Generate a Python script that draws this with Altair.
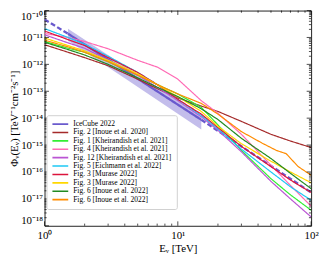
import altair as alt
import pandas as pd

W, H = 270, 218

NAMES = [
    "IceCube 2022",
    "Fig. 2 [Inoue et al. 2020]",
    "Fig. 1 [Kheirandish et al. 2021]",
    "Fig. 4 [Kheirandish et al. 2021]",
    "Fig. 12 [Kheirandish et al. 2021]",
    "Fig. 5 [Eichmann et al. 2022]",
    "Fig. 3 [Murase 2022]",
    "Fig. 3 [Murase 2022] ",
    "Fig. 6 [Inoue et al. 2022]",
    "Fig. 6 [Inoue et al. 2022] ",
]
COLORS = ["#6a5acd", "#a52a2a", "#33ee33", "#ff69b4", "#ba55d3",
          "#1ec8f5", "#dc143c", "#ffd700", "#228b22", "#ff8c00"]

# IceCube 2022 best fit (log10 flux) and 68% band
ICE_E_DASH1 = [1.0, 1.5]
ICE_F_DASH1 = [-10.33, -10.86]
ICE_E_SOLID = [1.5, 15.0]
ICE_F_SOLID = [-10.86, -14.06]
ICE_E_DASH2 = [15.0, 100.0]
ICE_F_DASH2 = [-14.06, -16.76]
BAND_E = [1.5, 4.0, 15.0]
BAND_HI = [-10.68, -12.06, -13.93]
BAND_LO = [-11.12, -12.52, -14.42]

E_STD = [1, 1.5, 2, 3, 5, 7, 10, 15, 20, 30, 50, 70, 100]
F_INOUE20 = [-11.27, -11.55, -11.75, -12.05, -12.55, -12.9, -13.25, -13.55, -13.75, -14.12, -14.6, -14.85, -15.09]
F_KH_FIG1 = [-11.15, -11.4, -11.55, -11.9, -12.4, -12.75, -13.1, -13.6, -14.25, -15.2, -16.25, -16.85, -17.42]
F_KH_FIG4 = [-10.85, -11.0, -11.15, -11.42, -11.85, -12.1, -12.55, -13.35, -13.82, -14.6, -15.75, -16.5, -17.27]
F_KH_FIG12 = [-10.9, -11.2, -11.4, -11.85, -12.4, -12.85, -13.35, -13.95, -14.45, -15.25, -16.35, -17.0, -17.67]
F_EICHMANN = [-10.67, -11.0, -11.25, -11.7, -12.3, -12.75, -13.3, -13.9, -14.4, -15.15, -16.0, -16.55, -17.05]
F_MURASE_A = [-10.76, -11.08, -11.3, -11.75, -12.3, -12.75, -13.3, -13.85, -14.35, -15.05, -15.8, -16.3, -16.76]
F_MURASE_B = [-11.02, -11.3, -11.5, -11.85, -12.35, -12.75, -13.2, -13.75, -14.3, -14.95, -15.6, -16.0, -16.4]
F_INOUE22_A = [-11.18, -11.45, -11.65, -12.0, -12.5, -12.85, -13.2, -13.65, -14.05, -14.75, -15.5, -16.05, -16.62]
E_INOUE22_B = [1, 1.5, 2, 3, 5, 7, 10, 15, 20, 30, 43, 55, 65, 80, 100]
F_INOUE22_B = [-11.1, -11.35, -11.55, -11.9, -12.4, -12.75, -13.1, -13.45, -13.85, -14.5, -14.93, -15.2, -15.32, -15.8, -16.12]

SERIES = [
    (NAMES[1], E_STD, F_INOUE20),
    (NAMES[2], E_STD, F_KH_FIG1),
    (NAMES[3], E_STD, F_KH_FIG4),
    (NAMES[4], E_STD, F_KH_FIG12),
    (NAMES[5], E_STD, F_EICHMANN),
    (NAMES[6], E_STD, F_MURASE_A),
    (NAMES[7], E_STD, F_MURASE_B),
    (NAMES[8], E_STD, F_INOUE22_A),
    (NAMES[9], E_INOUE22_B, F_INOUE22_B),
]

rows = []
for seg, style, es, fs in [("a", "dashed", ICE_E_DASH1, ICE_F_DASH1),
                           ("b", "solid", ICE_E_SOLID, ICE_F_SOLID),
                           ("c", "dashed", ICE_E_DASH2, ICE_F_DASH2)]:
    for e, f in zip(es, fs):
        rows.append({"series": NAMES[0], "seg": seg, "style": style, "E": e, "F": 10 ** f})
for name, es, fs in SERIES:
    for e, f in zip(es, fs):
        rows.append({"series": name, "seg": "a", "style": "solid", "E": e, "F": 10 ** f})
line_df = pd.DataFrame(rows)

band_df = pd.DataFrame({"E": BAND_E,
                        "F": [10 ** v for v in BAND_LO],
                        "hi": [10 ** v for v in BAND_HI]})

X_MAJOR = [1, 10, 100]
X_MINOR = [m * d for d in (1, 10) for m in range(2, 10)]
Y_MAJOR = [10.0 ** k for k in range(-18, -9)]
Y_MINOR = [m * 10.0 ** k for k in range(-18, -10) for m in range(2, 10)]

xs = alt.Scale(type="log", domain=[1, 100], nice=False)
ys = alt.Scale(type="log", domain=[1e-18, 1e-10], nice=False)

FONT = "Liberation Serif"

xaxis = alt.Axis(
    title="Eᵥ [TeV]", values=X_MAJOR,
    labelExpr="datum.value < 3 ? '10⁰' : datum.value < 30 ? '10¹' : '10²'",
    labelFlush=False, labelPadding=4, titlePadding=2,
)
yaxis = alt.Axis(
    title="Φᵥ(Eᵥ) [TeV⁻¹cm⁻²s⁻¹]", values=Y_MAJOR,
    labelExpr=("datum.value < 3e-18 ? '10⁻¹⁸' : datum.value < 3e-17 ? '10⁻¹⁷' : "
               "datum.value < 3e-16 ? '10⁻¹⁶' : datum.value < 3e-15 ? '10⁻¹⁵' : "
               "datum.value < 3e-14 ? '10⁻¹⁴' : datum.value < 3e-13 ? '10⁻¹³' : "
               "datum.value < 3e-12 ? '10⁻¹²' : datum.value < 3e-11 ? '10⁻¹¹' : '10⁻¹⁰'"),
    labelFlush=True, labelFlushOffset=0,
    labelPadding=2, titlePadding=1,
)

band = alt.Chart(band_df).mark_area(color="#6a5acd", opacity=0.4).encode(
    x=alt.X("E:Q", scale=xs, axis=xaxis),
    y=alt.Y("F:Q", scale=ys, axis=yaxis),
    y2="hi:Q",
)

lines = alt.Chart(line_df).mark_line(clip=True).encode(
    x=alt.X("E:Q", scale=xs),
    y=alt.Y("F:Q", scale=ys),
    color=alt.Color("series:N", scale=alt.Scale(domain=NAMES, range=COLORS),
                    legend=alt.Legend(
                        title=None, orient="none", legendX=2, legendY=106,
                        symbolType="stroke", symbolSize=256, clipHeight=8,
                        symbolStrokeWidth=1.6,
                        rowPadding=0.5, labelFontSize=7.6, labelFont=FONT,
                        labelOffset=4, padding=5, fillColor="white",
                        strokeColor="#d0d0d0", cornerRadius=2,
                        labelLimit=200)),
    strokeWidth=alt.condition(alt.datum.series == NAMES[0], alt.value(2.3), alt.value(1.2)),
    strokeDash=alt.StrokeDash("style:N",
                              scale=alt.Scale(domain=["solid", "dashed"], range=[[1, 0], [5, 2.5]]),
                              legend=None),
    detail="seg:N",
)


def xticks(vals, length):
    df = pd.DataFrame({"E": vals})
    bot = alt.Chart(df).mark_rule(color="black", strokeWidth=0.7).encode(
        x=alt.X("E:Q", scale=xs), y=alt.value(H), y2=alt.value(H - length))
    top = alt.Chart(df).mark_rule(color="black", strokeWidth=0.7).encode(
        x=alt.X("E:Q", scale=xs), y=alt.value(0), y2=alt.value(length))
    return [bot, top]


def yticks(vals, length):
    df = pd.DataFrame({"F": vals})
    left = alt.Chart(df).mark_rule(color="black", strokeWidth=0.7).encode(
        y=alt.Y("F:Q", scale=ys), x=alt.value(0), x2=alt.value(length))
    right = alt.Chart(df).mark_rule(color="black", strokeWidth=0.7).encode(
        y=alt.Y("F:Q", scale=ys), x=alt.value(W), x2=alt.value(W - length))
    return [left, right]


ticks = xticks(X_MAJOR, 4.5) + xticks(X_MINOR, 2.2) + yticks(Y_MAJOR, 4.5) + yticks(Y_MINOR, 2.2)

chart = alt.layer(band, lines, *ticks).properties(
    width=W, height=H, padding={"left": 0, "top": 0, "right": 0, "bottom": 0}
).configure_view(
    stroke="#222222", strokeWidth=1
).configure_axis(
    domain=False, ticks=False, grid=False,
    labelFont=FONT, labelFontSize=11, labelColor="black",
    titleFont=FONT, titleFontSize=11, titleFontWeight="normal", titleColor="black",
)

chart.save("out.html", embed_options={"renderer": "svg", "actions": False})
